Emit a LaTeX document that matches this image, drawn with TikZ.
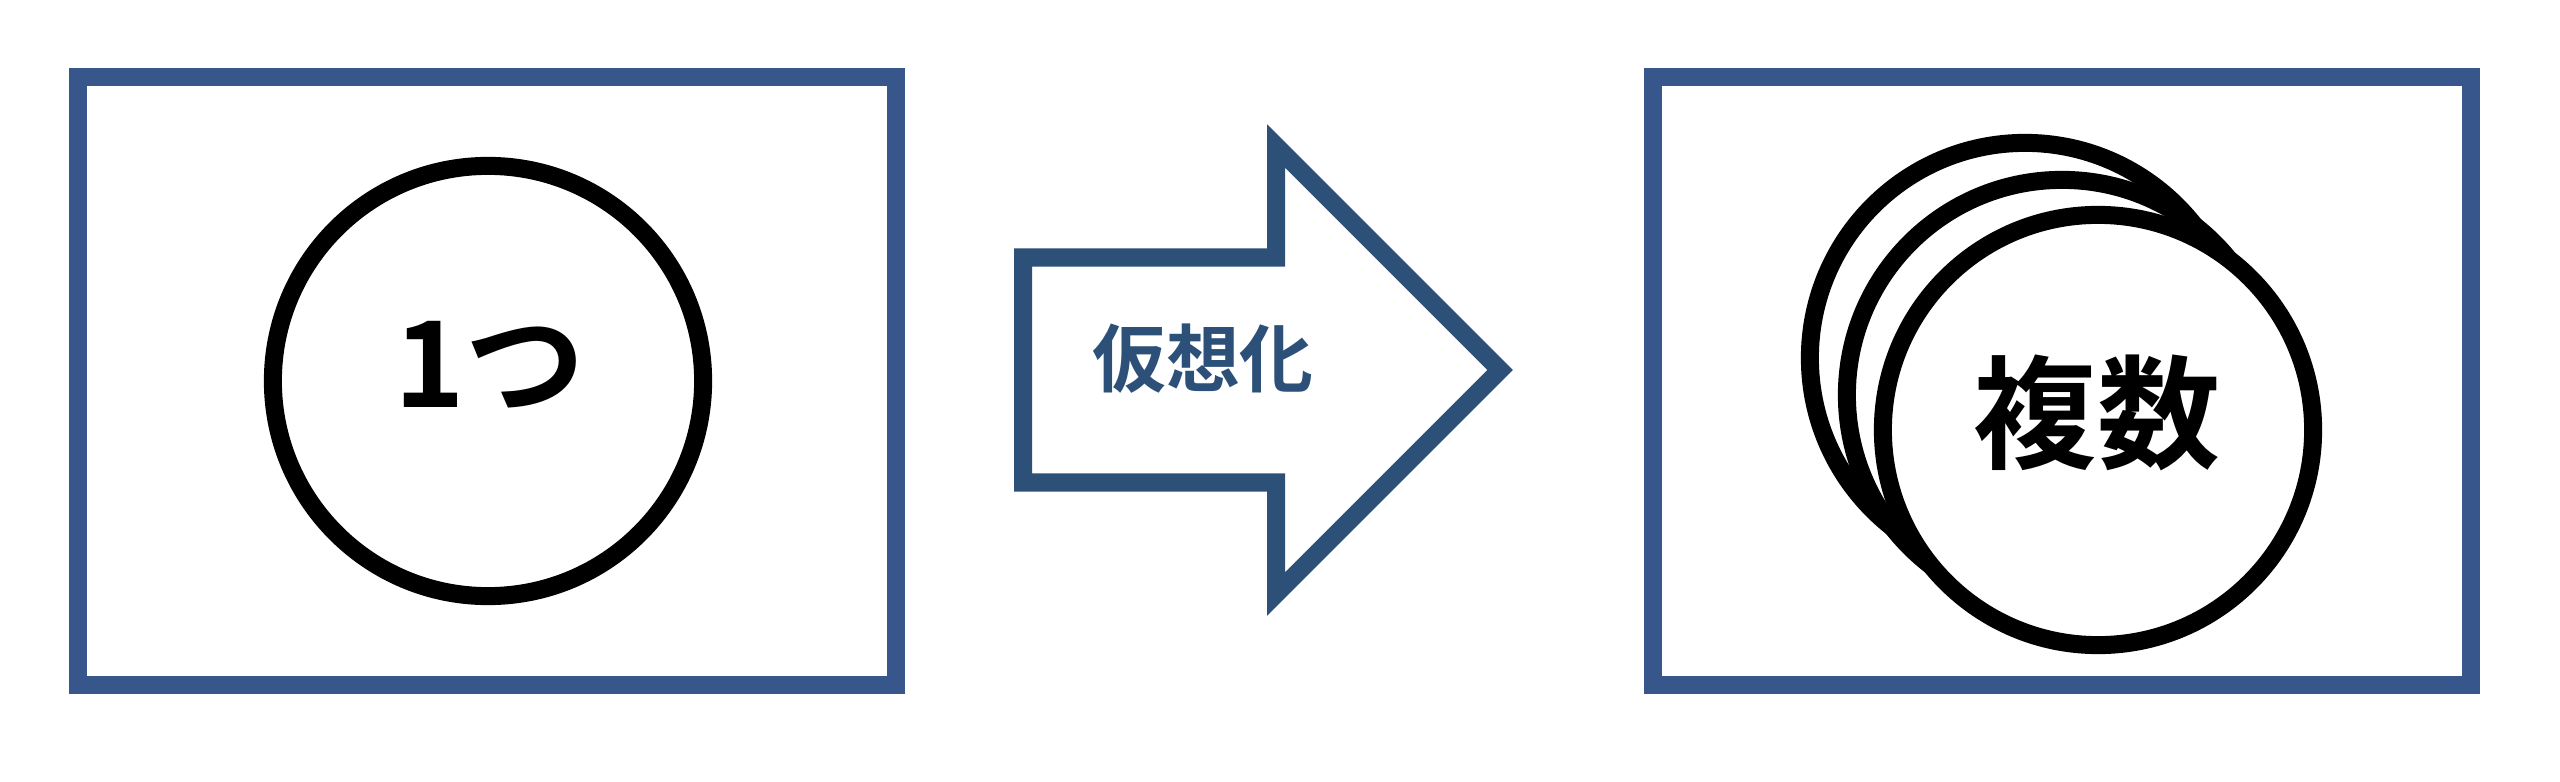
\documentclass[tikz,border=0pt]{standalone}
\usepackage{fontspec}
\newfontfamily\jpfont{Noto Sans CJK JP Bold}
\definecolor{boxblue}{RGB}{55,87,140}
\definecolor{arrowblue}{RGB}{44,80,120}

\begin{document}
\begin{tikzpicture}[x=0.01cm,y=-0.01cm,line join=miter,
  frame box/.style={rectangle,draw=boxblue,line width=0.18cm,minimum width=8.17cm,minimum height=6.08cm,inner sep=0pt},
  disc/.style={circle,draw=black,fill=white,line width=0.18cm,minimum size=4.3cm,inner sep=0pt},
  big label/.style={font=\jpfont\fontsize{35pt}{35pt}\selectfont,inner sep=0pt}]
  \useasboundingbox (0,0) rectangle (2560,782);

  \node[frame box] (left) at (487,381) {};
  \node[frame box] (right) at (2062,381) {};

  \node[disc] (one) at (488,381) {};
  \node[big label,font=\jpfont\fontsize{34pt}{34pt}\selectfont] (onelabel) at (490,365) {1つ};

  % stacked discs, back to front
  \node[disc] (back) at (2025,358) {};
  \node[disc] (middle) at (2062,395) {};
  \node[disc] (front) at (2098,430) {};
  \node[big label] (manylabel) at (2097,413) {複数};

  % block arrow
  \draw[arrowblue,line width=0.18cm] (1023,257.5) -- (1276,257.5) -- (1276,146) -- (1500,370)
    -- (1276,594) -- (1276,482.5) -- (1023,482.5) -- cycle;
  \node[text=arrowblue,font=\jpfont\fontsize{21pt}{21pt}\selectfont,inner sep=0pt] (virt) at (1203,359) {仮想化};
\end{tikzpicture}
\end{document}
